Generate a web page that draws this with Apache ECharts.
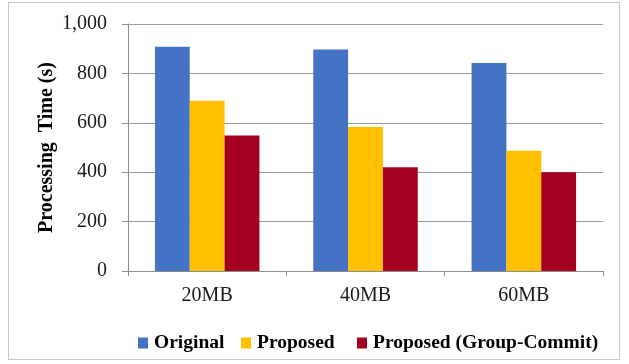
<!DOCTYPE html>
<html>
<head>
<meta charset="utf-8">
<script src="https://cdn.jsdelivr.net/npm/echarts@6/dist/echarts.min.js"></script>
<style>
  html, body { margin: 0; padding: 0; background: #fff; }
  #frame { position: absolute; left: 8px; top: 2px; width: 612px; height: 358px; border: 1px solid #c8c8c8; box-sizing: border-box; }
  #chart { position: absolute; left: 0; top: 0; width: 629px; height: 364px; }
</style>
</head>
<body>
<div id="frame"></div>
<div id="chart"></div>
<script>
const categories = ['20MB', '40MB', '60MB'];
const seriesNames = ['Original', 'Proposed', 'Proposed (Group-Commit)'];
const original = [908, 897, 842];
const proposed = [689, 583, 487];
const groupCommit = [549, 420, 400];
const yTicks = [0, 200, 400, 600, 800, 1000];

const colors = ['#4472C4', '#FFC000', '#A50021'];
const serif = '"Liberation Serif", "Times New Roman", serif';

const legendLefts = [138, 241, 357];
const legends = seriesNames.map((n, i) => ({
  data: [n],
  left: legendLefts[i],
  top: 333,
  padding: 0,
  icon: 'rect',
  itemWidth: 10,
  itemHeight: 11,
  textStyle: { fontFamily: serif, fontSize: 19.5, fontWeight: 'bold', color: '#000', padding: [0, 0, 0, 1] }
}));

const chart = echarts.init(document.getElementById('chart'));
chart.setOption({
  animation: false,
  backgroundColor: 'transparent',
  color: colors,
  grid: { left: 128, right: 26, top: 24, bottom: 93, containLabel: false },
  legend: legends,
  xAxis: {
    type: 'category',
    data: categories,
    axisLine: { lineStyle: { color: '#8c8c8c', width: 1 } },
    axisTick: { show: true, length: 5, lineStyle: { color: '#8c8c8c' } },
    axisLabel: { fontFamily: serif, fontSize: 20, color: '#1a1a1a', margin: 15 }
  },
  yAxis: {
    type: 'value',
    min: yTicks[0],
    max: yTicks[yTicks.length - 1],
    interval: 200,
    name: 'Processing  Time (s)',
    nameLocation: 'middle',
    nameGap: 71,
    nameMoveOverlap: false,
    nameTextStyle: { fontFamily: serif, fontSize: 20, fontWeight: 'bold', color: '#000' },
    axisLine: { show: true, lineStyle: { color: '#8c8c8c', width: 1 } },
    axisTick: { show: true, length: 6, lineStyle: { color: '#8c8c8c' } },
    splitLine: { lineStyle: { color: '#9a9a9a', width: 1 } },
    axisLabel: {
      fontFamily: serif, fontSize: 20, color: '#1a1a1a', margin: 21,
      formatter: v => v.toLocaleString('en-US')
    }
  },
  series: [
    { name: seriesNames[0], type: 'bar', data: original, barGap: '0%', barCategoryGap: '34%' },
    { name: seriesNames[1], type: 'bar', data: proposed, barGap: '0%', barCategoryGap: '34%' },
    { name: seriesNames[2], type: 'bar', data: groupCommit, barGap: '0%', barCategoryGap: '34%' }
  ]
});
</script>
</body>
</html>
